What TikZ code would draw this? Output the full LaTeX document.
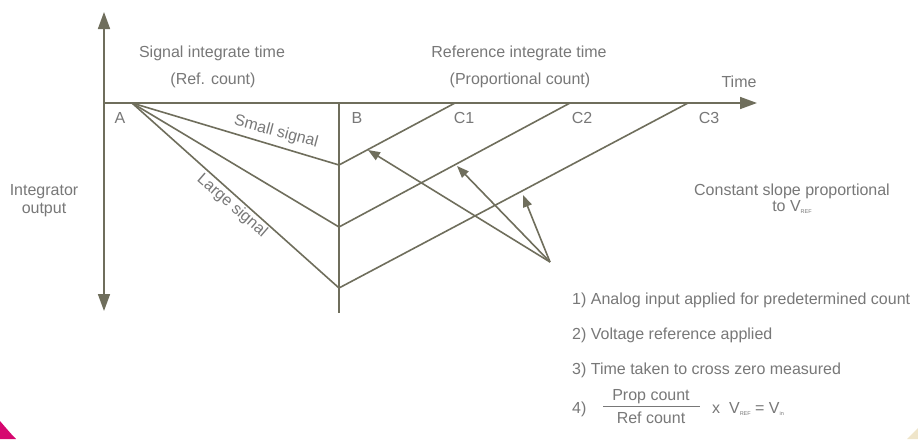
\documentclass[tikz,border=0pt]{standalone}
\usepackage{fontspec}
\setmainfont{Liberation Sans}
\usetikzlibrary{arrows.meta}
\definecolor{ln}{HTML}{6F6E5C}
\definecolor{tx}{HTML}{787878}
\definecolor{pinkc}{HTML}{D6076F}
\definecolor{beigec}{HTML}{EFE5CA}
\newcommand\tsub[1]{\raisebox{-0.35ex}{\fontsize{5.5}{6}\selectfont #1}}
\begin{document}
\begin{tikzpicture}[x=1pt,y=-1pt,
  wire/.style={draw=ln,line width=1.6pt},
  axisarrow/.style={wire,-{Triangle[length=17pt,width=12pt]}},
  pointer/.style={wire,-{Triangle[length=12pt,width=9pt]}},
  lbl/.style={text=tx,font=\fontsize{16}{19}\selectfont,inner sep=0pt},
  baselbl/.style={lbl,anchor=base},
  westlbl/.style={lbl,anchor=base west}]
\useasboundingbox (0,0) rectangle (918,439);
\fill[white] (0,0) rectangle (918,439);
% corners
\fill[pinkc] (0,421) .. controls (6,428) and (11,434) .. (16,439) -- (0,439) -- cycle;
\fill[beigec] (907,439) -- (918,428) -- (918,439) -- cycle;
% points
\coordinate (O) at (104,103);
\coordinate (top) at (104,12);
\coordinate (bot) at (104,311);
\coordinate (tend) at (757,103);
\coordinate (A) at (132,103);
\coordinate (B) at (339,103);
\coordinate (Bb) at (339,313);
\coordinate (S) at (339,165);
\coordinate (M) at (339,227);
\coordinate (L) at (339,288);
\coordinate (C1) at (455,103);
\coordinate (C2) at (570,103);
\coordinate (C3) at (688,103);
\coordinate (P) at (550,262);
\coordinate (T1) at (368,150);
\coordinate (T2) at (457,166);
\coordinate (T3) at (523,195);
% axes
\draw[axisarrow] (O) -- (top);
\draw[axisarrow] (O) -- (bot);
\draw[axisarrow] (O) -- (tend);
\draw[wire] (B) -- (Bb);
% ramps
\draw[wire,line join=round] (A) -- (S) -- (C1);
\draw[wire,line join=round] (A) -- (M) -- (C2);
\draw[wire,line join=round] (A) -- (L) -- (C3);
% pointers
\draw[pointer] (P) -- (T1);
\draw[pointer] (P) -- (T2);
\draw[pointer] (P) -- (T3);
% labels
\node[baselbl] (t1) at (212,57) {Signal integrate time};
\node[baselbl] (t2) at (213,84) {(Ref. count)};
\node[baselbl] (t3) at (519,57) {Reference integrate time};
\node[baselbl] (t4) at (520,84) {(Proportional count)};
\node[baselbl] (tm) at (739,87) {Time};
\node[baselbl] (la) at (120,123) {A};
\node[baselbl] (lb) at (357,123) {B};
\node[baselbl] (lc1) at (464,123) {C1};
\node[baselbl] (lc2) at (582,123) {C2};
\node[baselbl] (lc3) at (709,123) {C3};
\node[lbl,rotate=-15] (ss) at (276,132) {Small signal};
\node[lbl,rotate=-41] (ls) at (232,206) {Large signal};
\node[baselbl] (io1) at (44,195) {Integrator};
\node[baselbl] (io2) at (44,213) {output};
\node[baselbl] (cs1) at (792,195) {Constant slope proportional};
\node[baselbl] (cs2) at (792,211) {to V\tsub{REF}};
\node[westlbl] (s1) at (572,304) {1) Analog input applied for predetermined count};
\node[westlbl] (s2) at (572,339) {2) Voltage reference applied};
\node[westlbl] (s3) at (572,374) {3) Time taken to cross zero measured};
\node[westlbl] (s4) at (572,413) {4)};
\node[baselbl] (num) at (651,400) {Prop count};
\node[baselbl] (den) at (651,423) {Ref count};
\draw[draw=tx,line width=1pt] (603,406) -- (700,406);
\node[westlbl] (eq) at (712,413) {x\ \ V\tsub{REF} = V\tsub{in}};
\end{tikzpicture}
\end{document}
